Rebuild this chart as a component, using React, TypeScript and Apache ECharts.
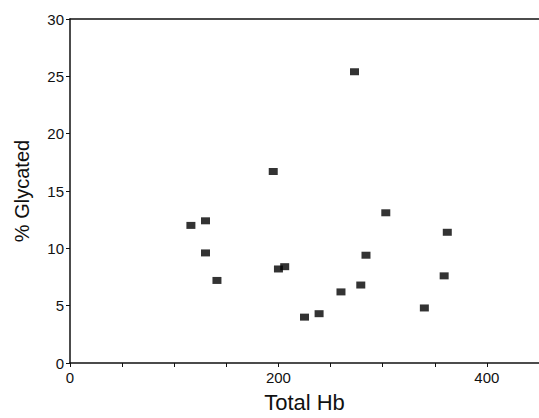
import React, { useEffect, useRef } from "react";
import * as echarts from "echarts";

const totalHb = [116, 130, 130, 141, 195, 273, 200, 206, 225, 239, 260, 279, 284, 303, 340, 359, 362];
const glycated = [12.0, 12.4, 9.6, 7.2, 16.7, 25.4, 8.2, 8.4, 4.0, 4.3, 6.2, 6.8, 9.4, 13.1, 4.8, 7.6, 11.4];
const xLabels = [0, 200, 400];

const FONT = "'Liberation Sans', Arial, Helvetica, sans-serif";

export default function App() {
  const ref = useRef<HTMLDivElement>(null);
  useEffect(() => {
    document.body.style.margin = "0";
    if (!ref.current) return;
    const chart = echarts.init(ref.current, undefined, { renderer: "svg" });
    const data = totalHb.map((x, i) => [x, glycated[i]]);
    chart.setOption({
      animation: false,
      backgroundColor: "#ffffff",
      grid: { left: 70, right: 0, top: 19, bottom: 49 },
      xAxis: [
        {
          type: "value",
          min: 0,
          max: 450,
          interval: 50,
          name: "Total Hb",
          nameLocation: "middle",
          nameGap: 28,
          nameTextStyle: { fontFamily: FONT, fontSize: 22, color: "#111" },
          axisLine: { lineStyle: { color: "#111", width: 1.5 } },
          axisTick: { show: true, length: 4, lineStyle: { color: "#111" } },
          axisLabel: {
            fontFamily: FONT,
            fontSize: 15,
            color: "#111",
            margin: 7,
            showMaxLabel: false,
            formatter: (v: number) => (xLabels.includes(v) ? String(v) : ""),
          },
          splitLine: { show: false },
        },
        {
          type: "value",
          position: "top",
          min: 0,
          max: 450,
          axisLine: { show: true, lineStyle: { color: "#111", width: 1.5 } },
          axisTick: { show: false },
          axisLabel: { show: false },
          splitLine: { show: false },
        },
      ],
      yAxis: {
        type: "value",
        min: 0,
        max: 30,
        interval: 5,
        name: "% Glycated",
        nameLocation: "middle",
        nameGap: 38,
        nameTextStyle: { fontFamily: FONT, fontSize: 20, color: "#111" },
        axisLine: { show: true, lineStyle: { color: "#111", width: 1.5 } },
        axisTick: { show: true, length: 4, lineStyle: { color: "#111" } },
        axisLabel: { fontFamily: FONT, fontSize: 15, color: "#111", margin: 6 },
        splitLine: { show: false },
      },
      series: [
        {
          type: "scatter",
          xAxisIndex: 0,
          data,
          symbol: "rect",
          symbolSize: [9, 7],
          itemStyle: { color: "#000" },
        },
      ],
    });
    return () => chart.dispose();
  }, []);
  return <div ref={ref} style={{ width: 539, height: 418 }} />;
}
